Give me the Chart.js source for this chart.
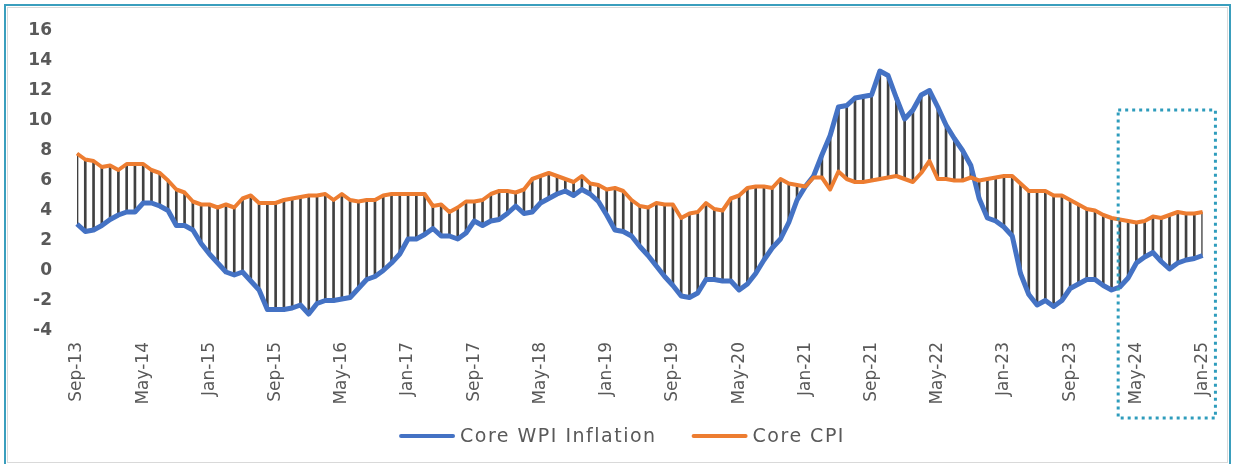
<!DOCTYPE html>
<html>
<head>
<meta charset="utf-8">
<title>Core WPI Inflation vs Core CPI</title>
<script src="https://cdn.jsdelivr.net/npm/chart.js@4.4.1/dist/chart.umd.min.js"></script>
<style>
  html, body { margin: 0; padding: 0; background: #fff; }
  .wrap { position: relative; width: 1236px; height: 464px; overflow: hidden; }
  .frame { position: absolute; left: 4px; top: 4px; width: 1227px; height: 462px; border: 2px solid #3a9ebd; box-sizing: border-box; }
  .frame::after { content: ''; position: absolute; left: 1px; top: 1px; right: 1px; bottom: 1px; border: 1px solid #d9d9d9; }
  #chart { position: absolute; left: 0; top: 0; }
</style>
</head>
<body>
<div class="wrap">
  <div class="frame"></div>
  <canvas id="chart" width="1236" height="464"></canvas>
</div>
<script>
// ===== DATA =====
// monthly, Sep-13 .. Jan-25
const coreWpi = [
  3.0, 2.5, 2.6, 2.9, 3.3, 3.6, 3.8, 3.8, 4.4, 4.4,
  4.2, 3.9, 2.9, 2.9, 2.6, 1.7, 1.0, 0.4, -0.2, -0.4,
  -0.2, -0.8, -1.4, -2.7, -2.7, -2.7, -2.6, -2.4, -3.0, -2.3,
  -2.1, -2.1, -2.0, -1.9, -1.3, -0.7, -0.5, -0.1, 0.4, 1.0,
  2.0, 2.0, 2.3, 2.7, 2.2, 2.2, 2.0, 2.4, 3.2, 2.9,
  3.2, 3.3, 3.7, 4.2, 3.7, 3.8, 4.4, 4.7, 5.0, 5.2,
  4.9, 5.3, 5.0, 4.5, 3.6, 2.6, 2.5, 2.2, 1.5, 0.9,
  0.2, -0.5, -1.1, -1.8, -1.9, -1.6, -0.7, -0.7, -0.8, -0.8,
  -1.4, -1.0, -0.3, 0.6, 1.4, 2.0, 3.1, 4.6, 5.5, 6.2,
  7.6, 8.9, 10.8, 10.9, 11.4, 11.5, 11.6, 13.2, 12.9, 11.4,
  10.0, 10.6, 11.6, 11.9, 10.8, 9.6, 8.7, 7.9, 6.9, 4.7,
  3.4, 3.2, 2.8, 2.2, -0.3, -1.7, -2.4, -2.1, -2.5, -2.1,
  -1.3, -1.0, -0.7, -0.7, -1.1, -1.4, -1.2, -0.6, 0.4, 0.8,
  1.1, 0.5, 0.0, 0.4, 0.6, 0.7, 0.9
];

const coreCpi = [
  7.7, 7.3, 7.2, 6.8, 6.9, 6.6, 7.0, 7.0, 7.0, 6.6,
  6.4, 5.9, 5.3, 5.1, 4.5, 4.3, 4.3, 4.1, 4.3, 4.1,
  4.7, 4.9, 4.4, 4.4, 4.4, 4.6, 4.7, 4.8, 4.9, 4.9,
  5.0, 4.6, 5.0, 4.6, 4.5, 4.6, 4.6, 4.9, 5.0, 5.0,
  5.0, 5.0, 5.0, 4.2, 4.3, 3.8, 4.1, 4.5, 4.5, 4.6,
  5.0, 5.2, 5.2, 5.1, 5.3, 6.0, 6.2, 6.4, 6.2, 6.0,
  5.8, 6.2, 5.7, 5.6, 5.3, 5.4, 5.2, 4.6, 4.2, 4.1,
  4.4, 4.3, 4.3, 3.4, 3.7, 3.8, 4.4, 4.0, 3.9, 4.7,
  4.9, 5.4, 5.5, 5.5, 5.4, 6.0, 5.7, 5.6, 5.5, 6.1,
  6.1, 5.3, 6.5, 6.0, 5.8, 5.8, 5.9, 6.0, 6.1, 6.2,
  6.0, 5.8, 6.4, 7.2, 6.0, 6.0, 5.9, 5.9, 6.1, 5.9,
  6.0, 6.1, 6.2, 6.2, 5.7, 5.2, 5.2, 5.2, 4.9, 4.9,
  4.6, 4.3, 4.0, 3.9, 3.6, 3.4, 3.3, 3.2, 3.1, 3.2,
  3.5, 3.4, 3.6, 3.8, 3.7, 3.7, 3.8
];

const monthNames = ['Jan', 'Feb', 'Mar', 'Apr', 'May', 'Jun', 'Jul', 'Aug', 'Sep', 'Oct', 'Nov', 'Dec'];
const startYear = 2013;
const startMonth = 8; // Sep
const tickEvery = 8;  // one label every 8 months
const seriesNames = ['Core WPI Inflation', 'Core CPI'];

// month labels like "Sep-13"
const months = coreWpi.map((_, i) => {
  const m = startMonth + i;
  const yy = (startYear + Math.floor(m / 12)) % 100;
  return `${monthNames[m % 12]}-${String(yy).padStart(2, '0')}`;
});

// high-low lines between the two series
const hiLow = coreWpi.map((v, i) => [Math.min(v, coreCpi[i]), Math.max(v, coreCpi[i])]);

const TEXT = '#595959';
const FONT = '"DejaVu Sans", sans-serif';

// ===== PLUGINS =====
// dotted box around the latest months
const focusBox = {
  id: 'focusBox',
  afterDraw(chart) {
    const { ctx, chartArea, scales } = chart;
    const left = scales.x.getPixelForValue(125.8);
    const right = scales.x.getPixelForValue(137.55);
    const top = scales.y.getPixelForValue(10.6);
    const bottom = chartArea.bottom + 89;
    ctx.save();
    ctx.strokeStyle = '#2e9cbc';
    ctx.lineWidth = 3;
    ctx.setLineDash([3, 4]);
    ctx.strokeRect(left, top, right - left, bottom - top);
    ctx.restore();
  }
};

// legend with long line samples
const lineLegend = {
  id: 'lineLegend',
  afterDraw(chart) {
    const c = chart.ctx;
    const items = chart.data.datasets.filter(d => d.type === 'line');
    const sample = 56, gap = 5, spacing = 35;
    c.save();
    c.font = `19px ${FONT}`;
    c.letterSpacing = '1.5px';
    c.textBaseline = 'middle';
    const widths = items.map(d => sample + gap + c.measureText(d.label).width);
    const total = widths.reduce((a, b) => a + b, 0) + spacing * (items.length - 1);
    let x = chart.width / 2 + 4 - total / 2;
    const y = 436;
    items.forEach((d, i) => {
      c.strokeStyle = d.borderColor;
      c.lineWidth = 4;
      c.lineCap = 'round';
      c.beginPath();
      c.moveTo(x + 2, y);
      c.lineTo(x + sample - 2, y);
      c.stroke();
      c.fillStyle = TEXT;
      c.fillText(d.label, x + sample + gap, y + 1);
      x += widths[i] + spacing;
    });
    c.restore();
  }
};

// ===== CHART =====
new Chart(document.getElementById('chart'), {
  data: {
    labels: months,
    datasets: [
      {
        type: 'line',
        label: seriesNames[0],
        data: coreWpi,
        borderColor: '#4472c4',
        borderWidth: 5,
        pointRadius: 0,
        tension: 0,
        borderJoinStyle: 'round',
        order: 2,
      },
      {
        type: 'line',
        label: seriesNames[1],
        data: coreCpi,
        borderColor: '#ed7d31',
        borderWidth: 4,
        pointRadius: 0,
        tension: 0,
        borderJoinStyle: 'round',
        order: 1,
      },
      {
        type: 'bar',
        label: 'High-Low',
        data: hiLow,
        backgroundColor: '#404040',
        barThickness: 2,
        order: 3,
      },
    ],
  },
  options: {
    responsive: false,
    animation: false,
    layout: { padding: { left: 0, top: 29, right: 33, bottom: 0 } },
    plugins: {
      legend: { display: false },
      tooltip: { enabled: false },
    },
    scales: {
      x: {
        offset: false,
        grid: { display: false, drawTicks: false, offset: false },
        border: { display: false },
        ticks: {
          autoSkip: false,
          minRotation: 90,
          maxRotation: 90,
          padding: 13,
          color: TEXT,
          font: { family: FONT, size: 17 },
          callback: (val, i) => (i % tickEvery === 0 ? months[i] : ''),
        },
        afterFit: s => { s.height = 135; },
      },
      y: {
        min: -4,
        max: 16,
        grid: { display: false, drawTicks: false },
        border: { display: false },
        ticks: {
          stepSize: 2,
          padding: 25,
          labelOffset: 2,
          color: TEXT,
          font: { family: FONT, size: 17, weight: 'bold' },
        },
        afterFit: s => {
          s.width = 77;
          s.paddingTop = 0;
          s.paddingBottom = 0;
        },
      },
    },
  },
  plugins: [focusBox, lineLegend],
});
</script>
</body>
</html>
